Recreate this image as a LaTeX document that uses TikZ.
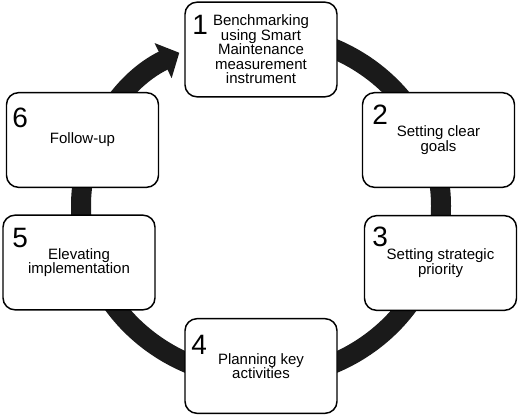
\documentclass[tikz,border=0pt]{standalone}
\usepackage{fontspec}
\setmainfont{Liberation Sans}
\usetikzlibrary{arrows.meta}
\definecolor{ringcol}{HTML}{1A1A1A}
\tikzset{
  stepbox/.style={draw=black, line width=1.1pt, fill=white, rounded corners=9pt,
    minimum width=114pt, minimum height=71pt, inner sep=0pt, align=center,
    font=\fontsize{11.25pt}{10.9pt}\selectfont},
  digit/.style={anchor=north west, inner sep=0pt, font=\fontsize{21pt}{21pt}\selectfont},
  ring/.style={draw=ringcol, line width=15pt, -{Triangle[width=28.5pt,length=13.5pt]}}
}
\begin{document}
\begin{tikzpicture}[x=0.75pt,y=0.75pt]
\useasboundingbox (0,0) rectangle (520,416);
\coordinate (c) at (261,210);
\draw[ring] (261,382) arc[start angle=90, end angle=-243, x radius=180, y radius=172];
\node[stepbox] (b1) at (261,366.5) {Benchmarking\\using Smart\\Maintenance\\measurement\\instrument};
\node[stepbox] (b2) at (438.5,276) {Setting clear\\goals};
\node[stepbox] (b3) at (440.5,153) {Setting strategic\\priority};
\node[stepbox] (b4) at (261,50) {Planning key\\activities};
\node[stepbox] (b5) at (79,153.5) {Elevating\\implementation};
\node[stepbox] (b6) at (82.5,276) {Follow-up};
\node[digit] (d1) at (192,401) {1};
\node[digit] (d2) at (372,311) {2};
\node[digit] (d3) at (372,189) {3};
\node[digit] (d4) at (191,81) {4};
\node[digit] (d5) at (12,188) {5};
\node[digit] (d6) at (12,308) {6};
\end{tikzpicture}
\end{document}
